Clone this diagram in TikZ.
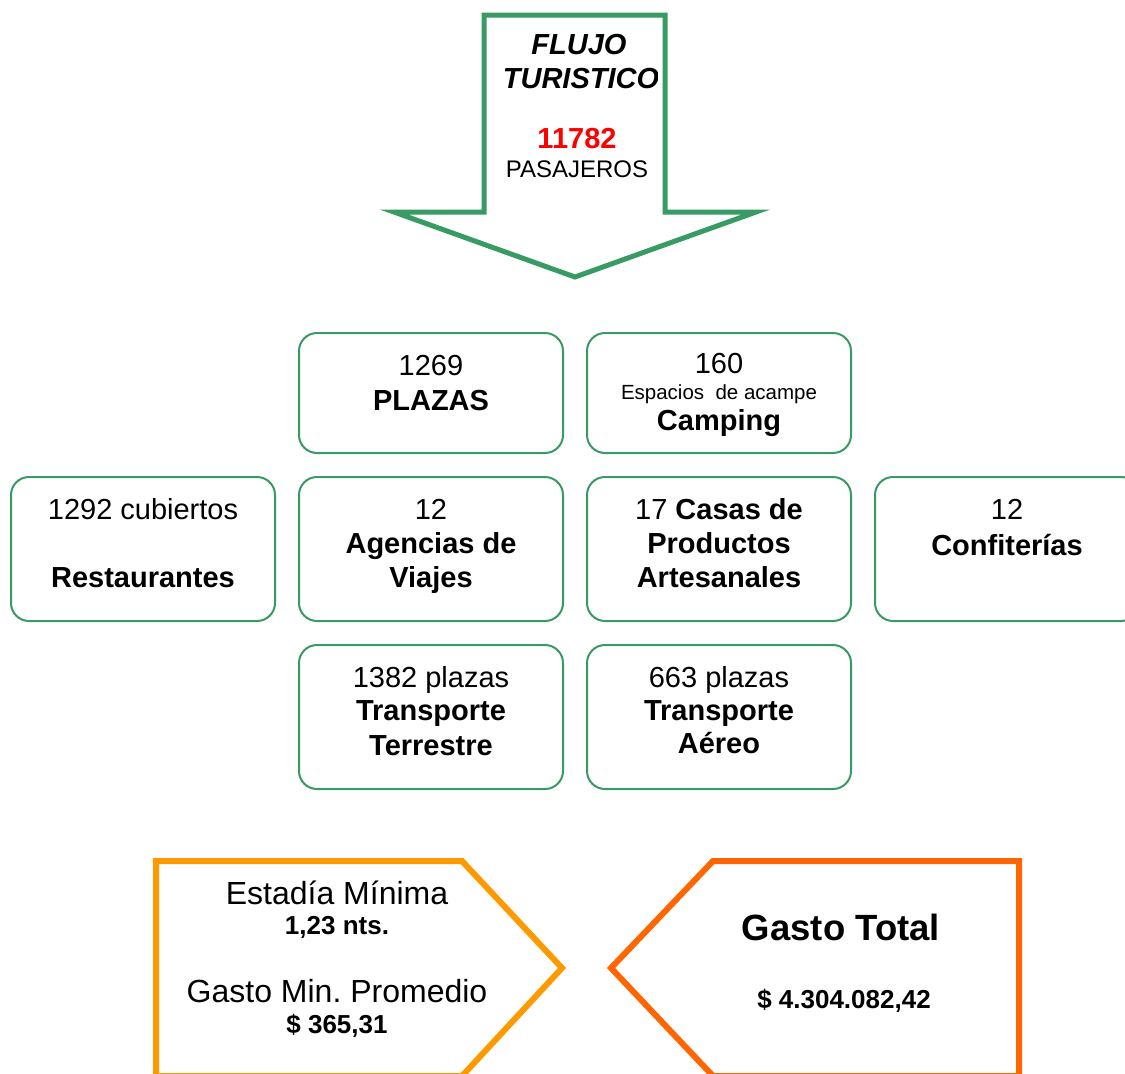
\documentclass[tikz,border=0pt]{standalone}
\usepackage{fontspec}
\setmainfont{Liberation Sans}
\definecolor{tgreen}{RGB}{56,155,100}
\definecolor{torange}{RGB}{255,153,0}
\definecolor{tred}{RGB}{255,102,0}
\definecolor{numred}{RGB}{255,0,0}
\newcommand\fsMain{\fontsize{29}{34}\selectfont}
\newcommand\fsSmall{\fontsize{20.5}{24}\selectfont}
\newcommand\fsPas{\fontsize{24}{28}\selectfont}
\newcommand\fsLab{\fontsize{32}{36}\selectfont}
\newcommand\fsVal{\fontsize{26}{30}\selectfont}
\newcommand\fsTot{\fontsize{36.5}{40}\selectfont}
\frenchspacing
\begin{document}
\begin{tikzpicture}[x=1pt,y=-1pt,
  box/.style={draw=tgreen, line width=2pt, rounded corners=18pt, inner sep=0pt,
    minimum width=264pt},
  txt/.style={anchor=base, inner sep=0pt, text=black},
  shapeline/.style={line width=6pt, line join=miter}]
\clip (0,0) rectangle (1125,1074);
\fill[white] (0,0) rectangle (1125,1074);

% top arrow
\draw[tgreen, line width=5pt, line join=miter]
  (484,15) -- (665,15) -- (665,212) -- (756,212) -- (575,277)
  -- (394,212) -- (484,212) -- cycle;
\begin{scope}
  \clip (486,17) rectangle (657,200);
  \node[txt] (flujo) at (579,54) {\fsMain\bfseries\itshape FLUJO};
  \node[txt] (turis) at (581,88) {\fsMain\bfseries\itshape TURISTICO};
\end{scope}
\node[txt, text=numred] (num) at (577,148) {\fsMain\bfseries 11782};
\node[txt] (pas) at (577,177) {\fsPas PASAJEROS};

% boxes
\node[box, minimum height=120pt] (plazas) at (431,393) {};
\node[box, minimum height=120pt] (camping) at (719,393) {};
\node[box, minimum height=144pt] (rest) at (143,549) {};
\node[box, minimum height=144pt] (agen) at (431,549) {};
\node[box, minimum height=144pt] (casas) at (719,549) {};
\node[box, minimum height=144pt] (conf) at (1007,549) {};
\node[box, minimum height=144pt] (terr) at (431,717) {};
\node[box, minimum height=144pt] (aereo) at (719,717) {};

% box texts
\node[txt] (t1a) at (431,375) {\fsMain 1269};
\node[txt] (t1b) at (431,410) {\fsMain\bfseries PLAZAS};

\node[txt] (t2a) at (719,373) {\fsMain 160};
\node[txt] (t2b) at (719,399) {\fsSmall Espacios\ \ de acampe};
\node[txt] (t2c) at (719,430) {\fsMain\bfseries Camping};

\node[txt] (t3a) at (143,519) {\fsMain 1292 cubiertos};
\node[txt] (t3b) at (143,587) {\fsMain\bfseries Restaurantes};

\node[txt] (t4a) at (431,519) {\fsMain 12};
\node[txt] (t4b) at (431,553) {\fsMain\bfseries Agencias de};
\node[txt] (t4c) at (431,587) {\fsMain\bfseries Viajes};

\node[txt] (t5a) at (719,519) {\fsMain 17 \bfseries Casas de};
\node[txt] (t5b) at (719,553) {\fsMain\bfseries Productos};
\node[txt] (t5c) at (719,587) {\fsMain\bfseries Artesanales};

\node[txt] (t6a) at (1007,519) {\fsMain 12};
\node[txt] (t6b) at (1007,555) {\fsMain\bfseries Confiterías};

\node[txt] (t7a) at (431,687) {\fsMain 1382 plazas};
\node[txt] (t7b) at (431,720) {\fsMain\bfseries Transporte};
\node[txt] (t7c) at (431,755) {\fsMain\bfseries Terrestre};

\node[txt] (t8a) at (719,687) {\fsMain 663 plazas};
\node[txt] (t8b) at (719,720) {\fsMain\bfseries Transporte};
\node[txt] (t8c) at (719,753) {\fsMain\bfseries Aéreo};

% bottom shapes
\draw[torange, shapeline]
  (156,861) -- (462,861) -- (562,968) -- (462,1076) -- (156,1076) -- cycle;
\draw[tred, shapeline]
  (1019,861) -- (713,861) -- (611,968) -- (713,1076) -- (1019,1076) -- cycle;

\node[txt] (b1) at (337,904) {\fsLab Estadía Mínima};
\node[txt] (b2) at (337,934) {\fsVal\bfseries 1,23 nts.};
\node[txt] (b3) at (337,1002) {\fsLab Gasto Min.\ Promedio};
\node[txt] (b4) at (337,1033) {\fsVal\bfseries \$ 365,31};

\node[txt] (c1) at (841,940) {\fsTot\bfseries Gasto Total};
\node[txt] (c2) at (844,1008) {\fsVal\bfseries \$ 4.304.082,42};
\end{tikzpicture}
\end{document}
